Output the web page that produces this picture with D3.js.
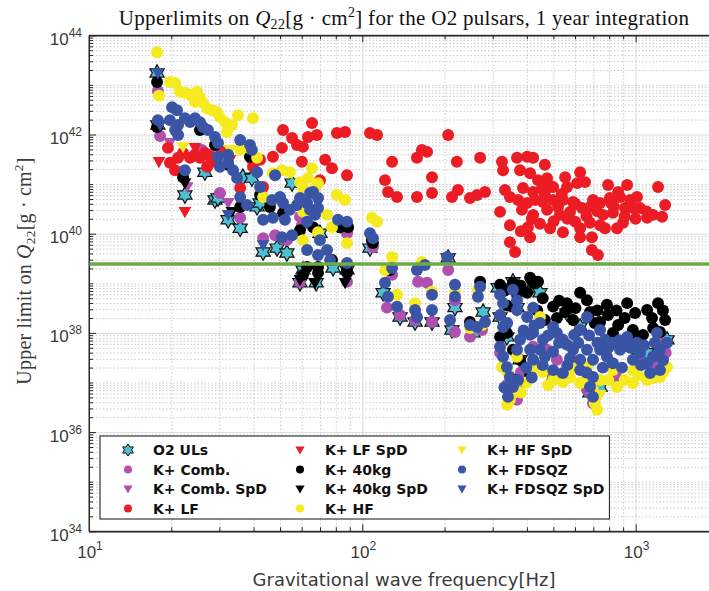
<!DOCTYPE html>
<html>
<head>
<meta charset="utf-8">
<title>Upperlimits on Q22 for the O2 pulsars</title>
<script src="https://d3js.org/d3.v7.min.js"></script>
<style>
  body { margin: 0; background: #fff; }
  svg { display: block; }
  .grid .domain { display: none; }
  .grid-major line { stroke: #dcdcdc; stroke-width: 1; }
  .grid-minor line { stroke: #bcbcbc; stroke-width: 0.8; stroke-dasharray: 1.5 2; }
  .ticks line, .ticks .domain { stroke: #262626; }
  .ticks text { display: none; }
  .lbl { font-family: "Liberation Sans", sans-serif; fill: #3a3a3a; }
  .xlab { font-family: "DejaVu Sans", sans-serif; font-size: 18px; fill: #3a3a3a; }
  .legend text { font-family: "DejaVu Sans", sans-serif; font-weight: bold; font-size: 14px; fill: #111; }
</style>
</head>
<body>
<svg width="709" height="591"></svg>
<script>
// every point is [log10 f (Hz), log10 Q22 (g cm^2)]
const o2UL = [[1.249,43.24],[1.252,42.19],[1.351,40.78],[1.424,41.24],[1.461,40.68],[1.472,40.72],[1.509,40.28],[1.553,40.11],
  [1.563,41.14],[1.596,41.12],[1.615,40.54],[1.626,40.62],[1.637,39.63],[1.688,39.71],[1.724,39.61],[1.743,41.02],[1.783,39.27],
  [1.772,39.01],[1.831,39.01],[1.845,40.01],[1.893,39.31],[1.937,40.11],[1.944,39.27],[2.028,39.71],[2.076,38.81],[2.138,38.32],
  [2.193,38.22],[2.255,38.22],[2.314,39.51],[2.339,38.51],[2.328,38.06],[2.405,38.00],[2.442,38.42],[2.497,38.91],[2.551,39.03],
  [2.625,38.97],[2.650,38.81],[2.566,38.51],[2.504,38.32],[2.529,37.92],[2.566,36.91],[2.749,38.40],[2.797,38.12],[2.870,36.91],
  [2.833,36.79],[2.990,37.72],[3.042,37.60],[3.115,37.86],[2.577,37.46],[2.698,37.11]];

const combQ = [[1.252,42.88],[1.260,41.97],[1.413,41.69],[1.443,41.59],[1.479,40.82],[1.553,40.32],[1.596,41.49],[1.637,39.91],
  [1.681,39.97],[1.724,39.87],[1.772,40.34],[1.779,40.17],[1.944,40.01],[2.039,39.73],[2.109,39.17],[1.772,39.03],[1.944,39.03],
  [2.090,38.51],[2.138,38.36],[2.193,38.26],[2.255,38.22],[2.204,39.03],[2.237,39.01],[2.339,38.66],[2.339,38.02],[2.394,37.92],
  [2.438,38.06],[2.314,39.27],[2.504,37.60],[2.529,36.95],[2.566,36.65],[2.844,36.58],[3.016,37.46],[3.089,37.86],[3.100,37.52],
  [2.822,36.85],[2.625,37.72],[2.676,37.66],[2.712,37.46],[2.580,37.20],[2.700,37.15],[2.850,37.05],[2.930,37.10],[3.070,37.40],
  [3.110,37.60]];
const combSpd = [[1.359,40.94],[1.509,40.62],[1.296,41.83]];

const lfQ = [[1.289,41.73],[1.296,41.43],[1.315,41.28],[1.326,41.53],[1.344,41.63],[1.370,41.53],[1.388,41.59],[1.406,41.53],
  [1.424,41.63],[1.443,41.55],[1.454,41.45],[1.432,41.35],[1.487,41.65],[1.553,40.92],[1.600,41.35],[1.637,40.94],[1.626,41.49],
  [1.673,41.55],[1.706,41.73],[1.710,42.09],[1.743,41.93],[1.761,41.79],[1.783,41.75],[1.801,41.95],[1.816,42.23],[1.834,41.99],
  [1.779,41.45],[1.864,41.49],[1.889,41.32],[1.944,41.18],[1.907,42.03],[1.937,42.05],[1.845,41.08],[2.028,42.03],[2.054,41.99],
  [2.083,41.08],[2.094,40.84],[2.127,40.74],[2.109,41.45],[2.200,41.53],[2.218,41.69],[2.237,41.65],[2.255,41.14],[2.255,40.82],
  [2.200,40.74],[2.314,41.99],[2.346,41.45],[2.328,40.74],[2.350,40.88],[2.394,40.72],[2.420,40.78],[2.449,40.84],[2.431,41.53],
  [2.511,41.45],[2.515,41.28],[2.522,40.88],[2.540,40.74],[2.504,40.44],[2.540,40.17],[2.540,39.83],[2.559,39.63],[2.566,41.53],
  [2.603,41.55],[2.625,41.53],[2.668,41.39],[2.577,41.28],[2.614,41.22],[2.643,41.08],[2.676,41.12],[2.588,40.92],[2.625,40.84],
  [2.657,40.92],[2.698,40.94],[2.742,41.14],[2.749,40.94],[2.570,40.68],[2.603,40.62],[2.632,40.68],[2.661,40.64],[2.698,40.68],
  [2.734,40.68],[2.771,40.64],[2.584,40.48],[2.625,40.38],[2.676,40.48],[2.716,40.54],[2.760,40.44],[2.804,40.52],[2.833,40.54],
  [2.606,40.13],[2.614,39.93],[2.687,40.11],[2.734,40.03],[2.797,40.11],[2.797,39.93],[2.840,39.93],[2.797,41.24],[2.815,41.04],
  [2.786,41.02],[2.844,40.68],[2.870,40.62],[2.906,40.72],[2.943,40.74],[2.980,40.68],[3.005,40.74],[2.990,40.52],[2.961,40.52],
  [2.917,40.42],[2.881,40.38],[2.899,40.98],[2.969,40.98],[2.936,40.84],[2.840,39.67],[2.862,39.57],[2.833,40.22],[2.870,40.17],
  [2.932,40.11],[2.954,40.22],[3.042,40.32],[3.064,40.38],[3.097,40.34],[3.108,40.58],[3.082,40.94],[2.723,40.38],[2.779,40.24],
  [2.668,40.78],[2.888,40.11],[3.016,40.52],[2.910,40.62],[2.620,40.30],[2.650,40.20],[2.700,40.25],[2.750,40.30],[2.780,40.60],
  [2.820,40.35],[2.860,40.45],[2.920,40.55],[2.960,40.35],[3.000,40.30],[3.040,40.45],[2.690,40.95],[2.580,40.05],[2.730,40.80]];
const lfSpd = [[1.256,41.45],[1.351,40.44],[1.304,41.39],[1.443,41.49],[1.388,41.73],[1.516,41.49]];

const kg40Q = [[1.249,43.06],[1.249,42.15],[1.344,41.14],[1.553,40.54],[1.662,40.54],[1.772,40.07],[1.820,40.13],[1.918,40.13],
  [1.948,40.13],[2.039,39.81],[2.101,39.27],[1.798,39.33],[1.838,39.33],[1.944,39.27],[2.035,39.87],[1.783,39.17],[1.838,39.21],
  [1.889,39.47],[1.944,39.21],[1.406,42.09],[1.461,41.79],[1.509,41.39],[1.626,40.78],[1.710,40.42],[1.589,41.55],
  [2.431,39.03],[2.394,38.22],[2.504,38.97],[2.551,39.01],[2.614,39.11],[2.625,39.01],[2.643,39.03],[2.603,38.81],[2.566,38.77],
  [2.698,38.53],[2.742,38.42],[2.749,38.60],[2.797,38.81],[2.822,38.66],[2.833,38.42],[2.895,38.57],[2.899,38.36],[2.969,38.60],
  [2.998,38.40],[3.042,38.46],[3.082,38.60],[3.108,38.26],[3.089,38.02],[2.529,38.00],[2.504,37.92],[2.551,37.66],[2.577,37.46],
  [2.870,38.22],[2.936,38.16],[3.005,37.92],[3.027,37.96],[2.917,38.00],[3.064,38.10],[2.990,38.06],[2.559,37.05],[2.614,37.15],
  [2.668,38.26],[2.712,38.30],[2.771,38.26],[2.520,38.85],[2.580,38.95],[2.660,38.70],[2.720,38.65],[2.780,38.50],[2.860,38.45],
  [2.930,38.45],[2.960,38.30],[3.060,38.30],[3.100,38.45],[2.640,38.45],[2.530,38.55],[2.850,38.20]];
const kg40Spd = [[1.827,39.01],[1.937,39.01],[1.351,41.02],[1.523,40.44],[1.772,39.07]];

const hfQ = [[1.249,43.66],[1.296,43.06],[1.315,43.04],[1.256,42.78],[1.333,42.86],[1.351,42.84],[1.370,42.80],[1.395,42.86],
  [1.406,42.74],[1.388,42.66],[1.417,42.64],[1.432,42.53],[1.450,42.49],[1.468,42.45],[1.479,42.35],[1.498,42.25],[1.545,42.39],
  [1.523,42.19],[1.505,42.05],[1.600,42.33],[1.553,41.69],[1.582,41.73],[1.615,41.53],[1.673,41.22],[1.706,41.28],[1.735,41.24],
  [1.772,41.04],[1.801,41.12],[1.816,41.32],[1.838,41.02],[1.783,40.92],[1.827,40.92],[1.637,40.74],[1.907,40.78],[1.937,40.68],
  [1.761,40.58],[1.783,40.44],[1.871,40.38],[1.889,40.13],[1.944,39.81],[1.838,40.03],[1.783,39.87],[2.035,40.32],[2.054,40.24],
  [2.109,39.53],[2.083,39.27],[2.127,38.77],[2.193,38.60],[2.255,38.83],[2.218,39.43],[2.339,38.81],[2.423,38.87],[2.438,38.16],
  [2.394,38.10],[2.511,37.31],[2.533,37.19],[2.551,36.79],[2.625,38.06],[2.650,38.32],[2.698,37.05],[2.734,37.01],[2.797,36.99],
  [2.844,36.85],[2.859,36.45],[2.870,37.05],[2.932,36.91],[3.042,37.05],[3.064,37.09],[3.089,37.11],[3.115,37.31],[2.990,37.25],
  [2.917,37.25],[2.566,37.52],[2.625,37.31],[2.661,37.21],[2.771,37.31],[2.822,37.31],[2.990,36.99],[2.540,36.65],[2.851,36.58],
  [2.600,37.00],[2.680,36.95],[2.760,37.10],[2.820,37.05],[2.900,37.05],[2.960,37.05],[3.010,37.15],[3.100,37.20],[2.580,36.80],
  [2.530,36.55]];
const hfSpd = [[1.344,41.75],[1.516,41.69],[2.870,36.75]];

const fdsqzQ = [[1.304,42.55],[1.322,42.49],[1.252,42.29],[1.296,42.29],[1.326,42.19],[1.351,42.33],[1.370,42.25],[1.388,42.33],
  [1.406,42.25],[1.417,42.15],[1.435,42.09],[1.461,41.95],[1.472,41.83],[1.326,41.99],[1.315,42.09],[1.351,41.28],[1.479,41.35],
  [1.509,41.43],[1.527,41.28],[1.542,41.12],[1.553,41.89],[1.589,41.79],[1.596,41.69],[1.509,41.59],[1.472,41.55],[1.670,40.68],
  [1.699,40.74],[1.710,40.62],[1.735,40.48],[1.761,40.58],[1.772,40.72],[1.798,40.62],[1.809,40.82],[1.820,40.44],[1.838,40.52],
  [1.637,40.28],[1.673,40.32],[1.717,40.28],[1.798,40.24],[1.743,39.97],[1.706,39.93],[1.845,39.87],[1.871,39.67],[1.882,39.47],
  [1.911,40.28],[1.944,40.24],[1.944,39.41],[2.028,40.01],[2.039,39.91],[2.109,39.31],[1.681,41.18],[1.615,41.24],[1.626,40.94],
  [1.553,40.74],[1.578,40.58],[1.820,40.84],[1.838,40.72],[1.809,40.48],[1.827,40.38],[1.798,39.67],[1.838,39.57],
  [2.083,39.01],[2.094,38.73],[2.127,38.53],[2.193,38.46],[2.200,38.32],[2.255,38.46],[2.255,38.77],[2.339,38.97],[2.339,38.73],
  [2.431,38.93],[2.423,38.73],[2.321,38.26],[2.394,38.16],[2.420,38.12],[2.449,38.22],[2.200,39.27],[2.229,39.37],[2.310,39.53],
  [2.504,38.77],[2.515,38.60],[2.551,38.87],[2.566,38.66],[2.566,38.46],[2.603,38.32],[2.625,38.51],[2.650,38.20],[2.614,37.96],
  [2.504,37.72],[2.515,37.52],[2.529,37.31],[2.540,37.11],[2.566,37.66],[2.577,37.86],[2.614,37.66],[2.625,37.46],[2.650,37.66],
  [2.698,37.62],[2.734,37.86],[2.771,37.66],[2.797,37.46],[2.822,37.66],[2.844,37.46],[2.870,37.66],[2.895,37.52],[2.917,37.39],
  [2.943,37.66],[2.969,37.92],[2.990,37.46],[3.016,37.60],[3.042,37.39],[3.064,37.52],[3.089,37.66],[3.115,37.80],[2.797,38.06],
  [2.822,38.32],[2.870,38.06],[2.917,37.80],[2.698,38.12],[2.712,38.00],[2.625,38.00],[2.661,37.86],[2.504,38.36],[2.515,38.12],
  [2.844,36.71],[2.833,36.91],[2.551,36.91],[2.533,36.71],[2.698,37.25],[2.734,37.19],[2.797,37.25],[2.844,37.11],[3.053,37.19],
  [3.089,37.25],[3.005,37.80],[3.078,38.00],[2.668,37.52],[2.749,37.76],[2.775,37.96],[2.888,37.86],[2.961,37.76],[2.760,37.49],
  [2.530,38.20],[2.590,38.05],[2.630,38.15],[2.680,37.95],[2.720,37.80],[2.790,37.80],[2.830,37.95],[2.860,37.80],[2.900,37.70],
  [2.940,37.85],[2.980,37.70],[3.030,37.75],[3.070,37.80],[2.600,37.30],[2.660,37.35],[2.750,37.35],[2.820,37.20],[2.880,37.30],
  [2.950,37.30],[3.020,37.35],[3.100,37.45],[2.570,37.05],[2.620,37.10],[2.520,36.90]];
const fdsqzSpd = [[1.252,43.24],[1.260,42.19],[1.509,40.38],[1.637,39.77]];

const refLine = 2.45e39;          // horizontal green line
const xMajor = [10, 100, 1000];
const yMajor = [1e34, 1e36, 1e38, 1e40, 1e42, 1e44];

const svg = d3.select('svg');
const W = 709, H = 591;

const x = d3.scaleLog().domain([10, 2000]).range([89, 717.9]);
const y = d3.scaleLog().domain([1e34, 1e44]).range([531.3, 35.3]);
const [x0, x1] = x.range();
const [y0, y1] = y.range();

// minor tick positions on a log axis: 2..9 in every decade
const minorOf = (lo, hi) => {
  const out = [];
  for (let e = lo; e < hi; e++) for (let k = 2; k <= 9; k++) out.push(k * Math.pow(10, e));
  return out;
};
const xMinor = minorOf(1, 4).filter(v => v <= 2000);
const yMinor = minorOf(34, 44).concat(d3.range(35, 44, 2).map(e => Math.pow(10, e)));

svg.append('defs').append('clipPath').attr('id', 'plot')
  .append('rect').attr('x', x0).attr('y', y1).attr('width', x1 - x0).attr('height', y0 - y1);

// grid
const grid = (cls, axis, tr) => svg.append('g').attr('class', 'grid ' + cls).attr('transform', tr).call(axis);
grid('grid-minor', d3.axisBottom(x).tickValues(xMinor).tickSize(-(y0 - y1)).tickFormat(''), `translate(0,${y0})`);
grid('grid-minor', d3.axisLeft(y).tickValues(yMinor).tickSize(-(x1 - x0)).tickFormat(''), `translate(${x0},0)`);
grid('grid-major', d3.axisBottom(x).tickValues(xMajor).tickSize(-(y0 - y1)).tickFormat(''), `translate(0,${y0})`);
grid('grid-major', d3.axisLeft(y).tickValues(yMajor).tickSize(-(x1 - x0)).tickFormat(''), `translate(${x0},0)`);

// inward ticks on bottom, top and left
const ticks = (axis, tr) => svg.append('g').attr('class', 'ticks').attr('transform', tr).call(axis.tickSizeOuter(0));
ticks(d3.axisBottom(x).tickValues(xMinor).tickSize(-4), `translate(0,${y0})`);
ticks(d3.axisBottom(x).tickValues(xMajor).tickSize(-7), `translate(0,${y0})`);
ticks(d3.axisTop(x).tickValues(xMinor).tickSize(-4), `translate(0,${y1})`);
ticks(d3.axisTop(x).tickValues(xMajor).tickSize(-7), `translate(0,${y1})`);
ticks(d3.axisLeft(y).tickValues(yMinor).tickSize(-4), `translate(${x0},0)`);
ticks(d3.axisLeft(y).tickValues(yMajor).tickSize(-7), `translate(${x0},0)`);

// tick labels 10^n
const pow10Label = (g, v) => {
  g.append('tspan').text('10').attr('font-size', 17);
  g.append('tspan').text(Math.round(Math.log10(v))).attr('font-size', 12).attr('dy', -8);
};
svg.append('g').selectAll('text').data(xMajor).join('text')
  .attr('class', 'lbl').attr('x', d => x(d) + 1).attr('y', 558).attr('text-anchor', 'middle')
  .each(function (d) { pow10Label(d3.select(this), d); });
svg.append('g').selectAll('text').data(yMajor).join('text')
  .attr('class', 'lbl').attr('x', 82).attr('y', d => y(d) + 9.5).attr('text-anchor', 'end')
  .each(function (d) { pow10Label(d3.select(this), d); });

// markers
const hexagram = {
  draw(ctx, size) {
    const R = Math.sqrt(size) / 2, r = R / Math.sqrt(3);
    for (let i = 0; i < 12; i++) {
      const a = -Math.PI / 2 + i * Math.PI / 6, rr = i % 2 ? r : R;
      i ? ctx.lineTo(rr * Math.cos(a), rr * Math.sin(a)) : ctx.moveTo(rr * Math.cos(a), rr * Math.sin(a));
    }
    ctx.closePath();
  }
};
const triDown = {
  draw(ctx, size) {
    const s = Math.sqrt(size);
    ctx.moveTo(-s / 2, -s * 0.38);
    ctx.lineTo(s / 2, -s * 0.38);
    ctx.lineTo(0, s * 0.5);
    ctx.closePath();
  }
};
const shapes = { star: [hexagram, 270], circle: [d3.symbolCircle, 112], tri: [triDown, 165] };

const series = [
  { name: 'O2 ULs', pts: o2UL, color: '#4ec0d3', shape: 'star' },
  { name: 'K+ Comb.', pts: combQ, color: '#b050ae', shape: 'circle' },
  { name: 'K+ Comb. SpD', pts: combSpd, color: '#b050ae', shape: 'tri' },
  { name: 'K+ LF', pts: lfQ, color: '#ec1c24', shape: 'circle' },
  { name: 'K+ LF SpD', pts: lfSpd, color: '#ec1c24', shape: 'tri' },
  { name: 'K+ 40kg', pts: kg40Q, color: '#000000', shape: 'circle' },
  { name: 'K+ 40kg SpD', pts: kg40Spd, color: '#000000', shape: 'tri' },
  { name: 'K+ HF', pts: hfQ, color: '#f4ea1e', shape: 'circle' },
  { name: 'K+ HF SpD', pts: hfSpd, color: '#f4ea1e', shape: 'tri' },
  { name: 'K+ FDSQZ', pts: fdsqzQ, color: '#3a54a6', shape: 'circle' },
  { name: 'K+ FDSQZ SpD', pts: fdsqzSpd, color: '#3a54a6', shape: 'tri' }
];

const plot = svg.append('g').attr('clip-path', 'url(#plot)');
series.forEach(s => {
  const [type, size] = shapes[s.shape];
  plot.append('g').selectAll('path').data(s.pts).join('path')
    .attr('transform', d => `translate(${x(Math.pow(10, d[0]))},${y(Math.pow(10, d[1]))})`)
    .attr('d', d3.symbol(type, size))
    .attr('fill', s.color)
    .attr('stroke', s.shape === 'star' ? '#111' : 'none')
    .attr('stroke-width', 1.2);
});

plot.append('line')
  .attr('x1', x0).attr('x2', x1).attr('y1', y(refLine)).attr('y2', y(refLine))
  .attr('stroke', '#6cab46').attr('stroke-width', 3.5);

// axes box lines
svg.append('line').attr('x1', x0).attr('x2', W).attr('y1', y1).attr('y2', y1).attr('stroke', '#262626');
svg.append('line').attr('x1', x0).attr('x2', W).attr('y1', y0).attr('y2', y0).attr('stroke', '#262626');
svg.append('line').attr('x1', x0).attr('x2', x0).attr('y1', y1).attr('y2', y0).attr('stroke', '#262626');

// legend
const legend = svg.append('g').attr('class', 'legend');
const box = legend.append('rect').attr('x', 100).attr('y', 436).attr('height', 83)
  .attr('fill', '#fff').attr('stroke', '#111').attr('stroke-width', 1);
const colX = [128, 300, 462], rowY = [450, 469.5, 489, 508.5];
const legSize = { star: 150, circle: 50, tri: 85 };
series.forEach((s, i) => {
  const cx = colX[Math.floor(i / 4)], cy = rowY[i % 4];
  const [type] = shapes[s.shape];
  legend.append('path')
    .attr('transform', `translate(${cx},${cy})`)
    .attr('d', d3.symbol(type, legSize[s.shape]))
    .attr('fill', s.color)
    .attr('stroke', s.shape === 'star' ? '#111' : 'none');
  legend.append('text').attr('x', cx + 25).attr('y', cy + 5).text(s.name);
});
const legRight = d3.max(legend.selectAll('text').nodes(), n => n.getBBox().x + n.getBBox().width);
box.attr('width', legRight + 5 - 100);

// title and axis labels
const title = svg.append('text').attr('x', 404).attr('y', 25).attr('text-anchor', 'middle')
  .attr('font-family', '"Liberation Serif", serif').attr('font-size', 21)
  .attr('letter-spacing', 0.3).attr('fill', '#111');
title.append('tspan').text('Upperlimits on ');
title.append('tspan').text('Q').attr('font-style', 'italic');
title.append('tspan').text('22').attr('font-size', 14).attr('dy', 4);
title.append('tspan').text('[g · cm').attr('dy', -4);
title.append('tspan').text('2').attr('font-size', 14).attr('dy', -8);
title.append('tspan').text('] for the O2 pulsars, 1 year integration').attr('dy', 8);

const ylab = svg.append('text').attr('transform', 'translate(31,271) rotate(-90)').attr('text-anchor', 'middle')
  .attr('font-family', '"Liberation Serif", serif').attr('font-size', 20)
  .attr('letter-spacing', 0.2).attr('fill', '#3a3a3a');
ylab.append('tspan').text('Upper limit on ');
ylab.append('tspan').text('Q').attr('font-style', 'italic');
ylab.append('tspan').text('22').attr('font-size', 13.5).attr('dy', 4);
ylab.append('tspan').text('[g · cm').attr('dy', -4);
ylab.append('tspan').text('2').attr('font-size', 13.5).attr('dy', -8);
ylab.append('tspan').text(']').attr('dy', 8);

svg.append('text').attr('class', 'xlab').attr('x', 404).attr('y', 586).attr('text-anchor', 'middle')
  .text('Gravitational wave frequency[Hz]');
</script>
</body>
</html>
